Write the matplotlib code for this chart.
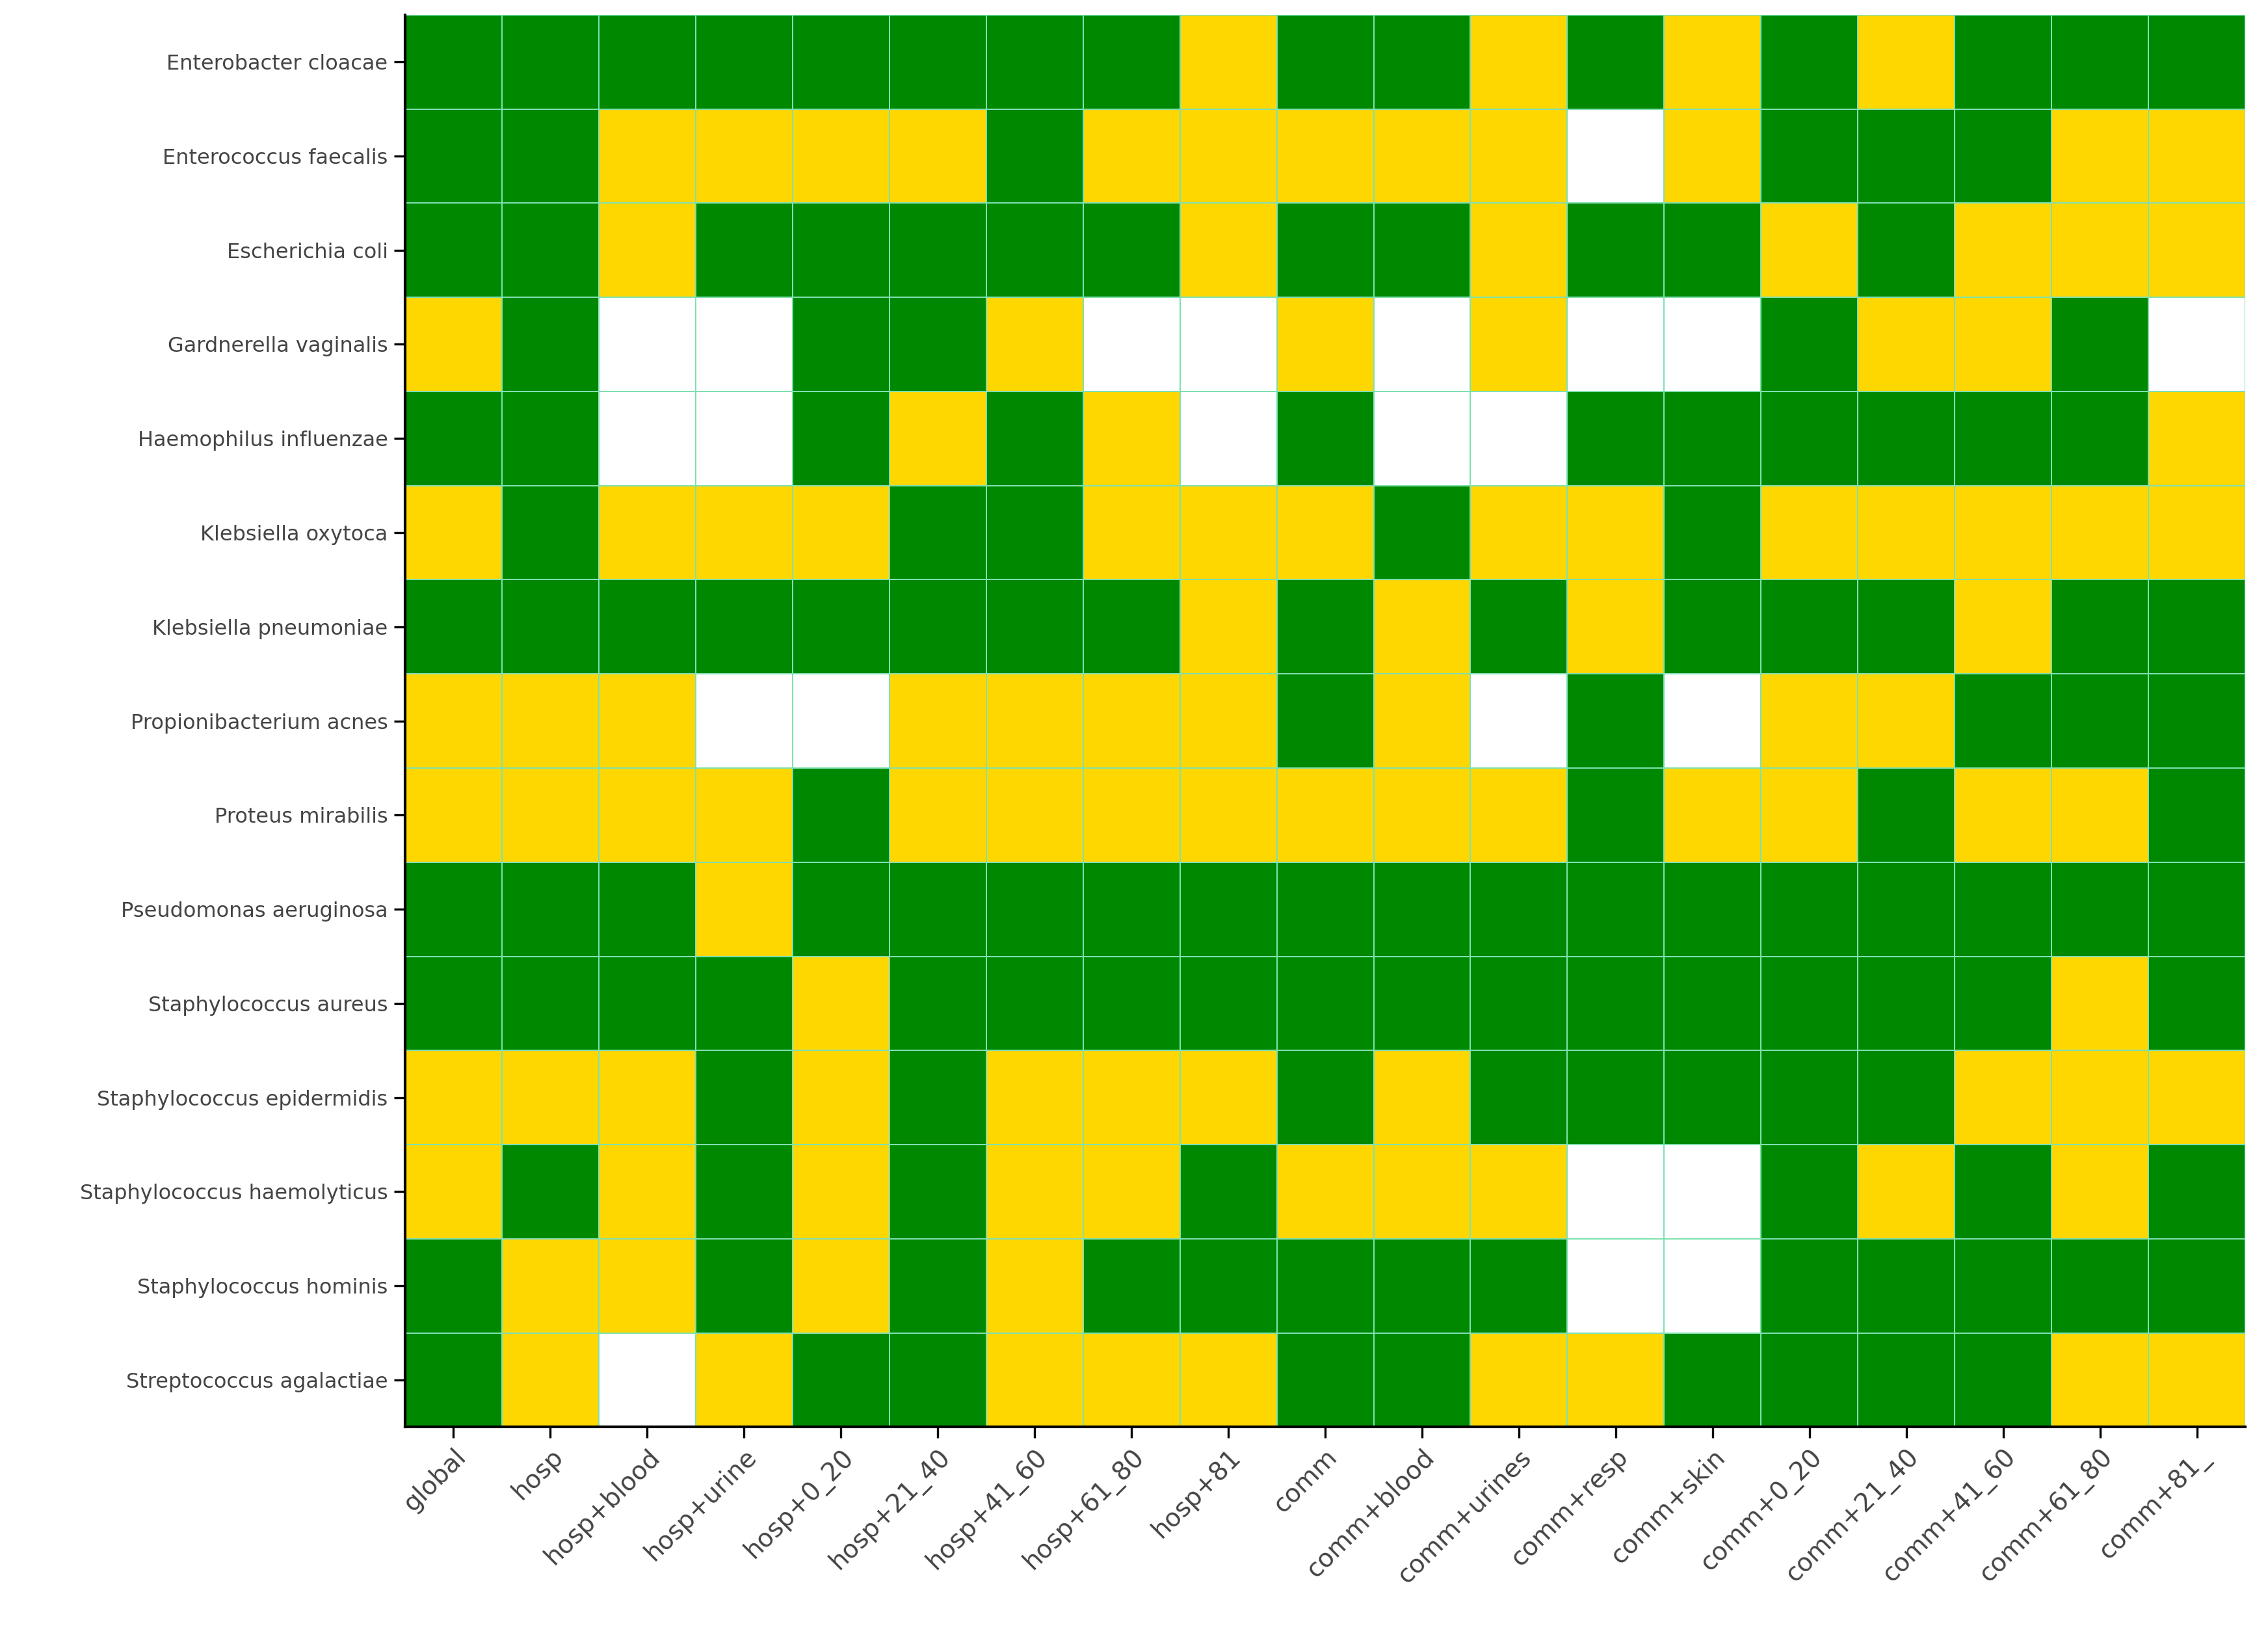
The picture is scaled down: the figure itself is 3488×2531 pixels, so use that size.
import numpy as np
import matplotlib.pyplot as plt
from matplotlib.colors import ListedColormap

species = ["Enterobacter cloacae", "Enterococcus faecalis", "Escherichia coli",
           "Gardnerella vaginalis", "Haemophilus influenzae", "Klebsiella oxytoca",
           "Klebsiella pneumoniae", "Propionibacterium acnes", "Proteus mirabilis",
           "Pseudomonas aeruginosa", "Staphylococcus aureus", "Staphylococcus epidermidis",
           "Staphylococcus haemolyticus", "Staphylococcus hominis", "Streptococcus agalactiae"]
groups = ["global", "hosp", "hosp+blood", "hosp+urine", "hosp+0_20", "hosp+21_40",
          "hosp+41_60", "hosp+61_80", "hosp+81", "comm", "comm+blood", "comm+urines",
          "comm+resp", "comm+skin", "comm+0_20", "comm+21_40", "comm+41_60",
          "comm+61_80", "comm+81_"]

# G = green, Y = yellow, W = no data
status = [
    "GGGGGGGGYGGYGYGYGGG",
    "GGYYYYGYYYYYWYGGGYY",
    "GGYGGGGGYGGYGGYGYYY",
    "YGWWGGYWWYWYWWGYYGW",
    "GGWWGYGYWGWWGGGGGGY",
    "YGYYYGGYYYGYYGYYYYY",
    "GGGGGGGGYGYGYGGGYGG",
    "YYYWWYYYYGYWGWYYGGG",
    "YYYYGYYYYYYYGYYGYYG",
    "GGGYGGGGGGGGGGGGGGG",
    "GGGGYGGGGGGGGGGGGYG",
    "YYYGYGYYYGYGGGGGYYY",
    "YGYGYGYYGYYYWWGYGYG",
    "GYYGYGYGGGGGWWGGGGG",
    "GYWYGGYYYGGYYGGGGYY",
]

code = {"W": 0, "Y": 1, "G": 2}
grid = np.array([[code[c] for c in row] for row in status])

cmap = ListedColormap(["white", "#FFD700", "#008800"])

fig = plt.figure(figsize=(17.44, 12.655), dpi=200)
ax = fig.add_axes([0.1786, 0.133, 0.8114, 0.858])
ax.pcolormesh(grid, cmap=cmap, vmin=0, vmax=2, edgecolor="#7FE0B0", linewidth=0.6)
ax.set_xlim(0, len(groups))
ax.set_ylim(len(species), 0)

ax.set_xticks(np.arange(len(groups)) + 0.5)
ax.set_xticklabels(groups, rotation=45, ha="right", rotation_mode="anchor",
                   fontsize=14, color="#444444")
ax.set_yticks(np.arange(len(species)) + 0.5)
ax.set_yticklabels(species, fontsize=11.5, color="#444444")
ax.tick_params(length=6, color="black", width=1.2)
for side in ["top", "right"]:
    ax.spines[side].set_visible(False)
for side in ["left", "bottom"]:
    ax.spines[side].set_linewidth(1.5)

fig.savefig("out.png", dpi=200)
